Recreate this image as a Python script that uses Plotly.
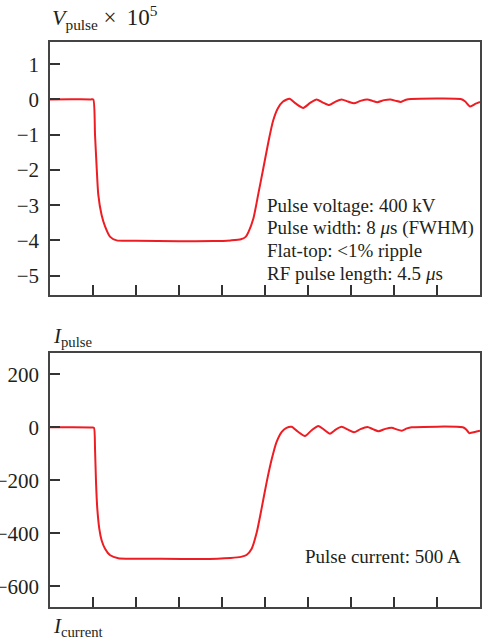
import plotly.graph_objects as go

# ---- data ----
t_v = [0, 0.5, 0.95, 1.007, 1.047, 1.086, 1.123, 1.20, 1.28, 1.40, 1.55, 2.0, 3.0, 3.8, 4.2, 4.44,
       4.55, 4.62, 4.73, 4.84, 4.96, 5.08, 5.19, 5.30, 5.42, 5.57, 5.72, 5.89, 6.05, 6.20, 6.35,
       6.49, 6.64, 6.78, 6.93, 7.07, 7.22, 7.38, 7.50, 7.61, 7.77, 7.92, 8.04, 8.16, 8.28, 8.40,
       9.55, 9.65, 9.77, 9.90, 10.0]
v_pulse = [0, 0.005, 0.0, 0, -1.0, -1.95, -2.7, -3.28, -3.6, -3.9, -4.0, -4.01, -4.025, -4.02, -4.0, -3.97,
           -3.9, -3.75, -3.38, -2.71, -1.96, -1.2, -0.6, -0.25, -0.06, 0.02, -0.12, -0.24, -0.1, 0.0, -0.09,
           -0.16, -0.06, 0.0, -0.06, -0.11, -0.04, 0.0, -0.04, -0.08, -0.02, 0.0, -0.04, -0.07, -0.01, 0.01,
           0.01, -0.05, -0.2, -0.12, -0.07]

t_i = [0, 0.5, 0.98, 1.023, 1.047, 1.07, 1.10, 1.146, 1.20, 1.28, 1.40, 1.59, 2.5, 3.5, 4.2, 4.44,
       4.57, 4.69, 4.81, 4.92, 5.04, 5.16, 5.27, 5.39, 5.50, 5.62, 5.76, 5.93, 6.08, 6.24, 6.38,
       6.51, 6.65, 6.78, 6.93, 7.07, 7.22, 7.38, 7.51, 7.64, 7.80, 7.95, 8.06, 8.18, 8.30, 8.41,
       9.60, 9.68, 9.75, 9.88, 10.0]
i_pulse = [0, 0, -1, -2, -80, -206, -307, -382, -426, -458, -483, -494, -496, -497, -493, -489,
           -482, -458, -395, -307, -206, -118, -55, -17, -2, 2, -16, -33, -12, 5, -10,
           -24, -8, 2, -9, -19, -7, 1, -7, -15, -6, -2, -8, -13, -4, 0,
           0, -8, -22, -18, -13]

x_ticks = [1, 2, 3, 4, 5, 6, 7, 8, 9]
v_ticks = [-5, -4, -3, -2, -1, 0, 1]
i_ticks = [-600, -400, -200, 0, 200]

v_notes = ["Pulse voltage: 400 kV",
           "Pulse width: 8 <i>μ</i>s (FWHM)",
           "Flat-top: &lt;1% ripple",
           "RF pulse length: 4.5 <i>μ</i>s"]
i_note = "Pulse current: 500 A"

RED = "#ee1d23"
INK = "#231f20"
FONT = "Liberation Serif"

fig = go.Figure()
fig.add_trace(go.Scatter(x=t_v, y=v_pulse, mode="lines", xaxis="x", yaxis="y",
                         line=dict(color=RED, width=2, shape="spline", smoothing=0.6),
                         showlegend=False, hoverinfo="skip"))
fig.add_trace(go.Scatter(x=t_i, y=i_pulse, mode="lines", xaxis="x2", yaxis="y2",
                         line=dict(color=RED, width=2, shape="spline", smoothing=0.6),
                         showlegend=False, hoverinfo="skip"))

axis_common = dict(showline=True, mirror=True, linecolor="#444444", linewidth=1.5,
                   ticks="inside", ticklen=10, tickwidth=1.5, tickcolor="#333333",
                   showgrid=False, zeroline=False, automargin=False,
                   tickfont=dict(family=FONT, size=21, color=INK))

fig.update_layout(
    width=482, height=644,
    margin=dict(l=50, r=2, t=42, b=37, autoexpand=False),
    paper_bgcolor="white", plot_bgcolor="white",
    font=dict(family=FONT, color=INK),
    xaxis=dict(range=[0, 10], tickvals=x_ticks, showticklabels=False, anchor="y", **axis_common),
    yaxis=dict(range=[-5.55, 1.63], tickvals=v_ticks, domain=[0.5522, 1], anchor="x",
               ticklabelstandoff=5, **axis_common),
    xaxis2=dict(range=[0, 10], tickvals=x_ticks, showticklabels=False, anchor="y2", **axis_common),
    yaxis2=dict(range=[-678, 279], tickvals=i_ticks, domain=[0, 0.449], anchor="x2",
                ticklabelstandoff=5, **axis_common),
)

ann = []
ann.append(dict(text="<i>V</i><sub>pulse</sub> <span style='font-size:23px'>× \u200910</span><sup>5</sup>",
                xref="paper", yref="paper",
                x=0, y=(607 - 18) / 565, xanchor="left", yanchor="middle", showarrow=False,
                font=dict(family=FONT, size=22, color=INK)))
ann.append(dict(text="<i>I</i><sub>pulse</sub>", xref="paper", yref="paper",
                x=0.003, y=(607 - 337) / 565, xanchor="left", yanchor="middle", showarrow=False,
                font=dict(family=FONT, size=21, color=INK)))
ann.append(dict(text="<i>I</i><sub>current</sub>", xref="paper", yref="paper",
                x=0.003, y=(607 - 627) / 565, xanchor="left", yanchor="middle", showarrow=False,
                font=dict(family=FONT, size=21, color=INK)))
note_y = [-3.0, -3.65, -4.30, -4.95]
for txt, yy in zip(v_notes, note_y):
    ann.append(dict(text=txt, xref="x", yref="y", x=4.99, y=yy, xanchor="left", yanchor="middle",
                    showarrow=False, font=dict(family=FONT, size=19, color=INK)))
ann.append(dict(text=i_note, xref="x2", yref="y2", x=5.88, y=-487, xanchor="left", yanchor="middle",
                showarrow=False, font=dict(family=FONT, size=19, color=INK)))
fig.update_layout(annotations=ann)

fig.write_html("out.html", config={"displayModeBar": False},
               post_script="document.body.style.margin='0';document.body.style.overflow='hidden';")
